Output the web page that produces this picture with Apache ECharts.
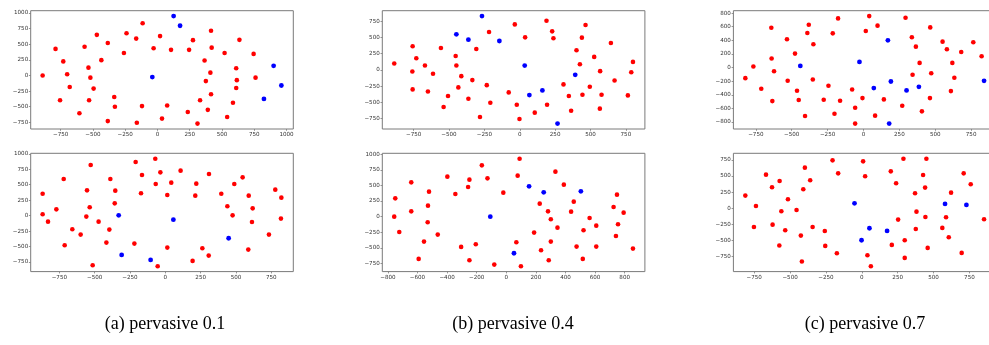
<!DOCTYPE html>
<html><head><meta charset="utf-8">
<script src="https://cdn.jsdelivr.net/npm/echarts@6/dist/echarts.min.js"></script>
<style>html,body{margin:0;padding:0;background:#fff;overflow:hidden}#c{width:1010px;height:345px}</style>
</head><body><div id="c"></div>
<script>
// (a) pervasive 0.1 — top
const a1Red = [[-890,0],[-790,425],[-730,225],[-755,-395],[-700,20],[-680,-185],[-605,-605],[-565,460],[-535,125],[-520,-35],[-530,-395],[-495,-210],[-470,650],[-435,245],[-385,520],[-385,-730],[-335,-345],[-330,-500],[-260,360],[-240,675],[-165,590],[-160,-755],[-115,835],[-120,-490],[-30,435],[20,630],[35,-690],[75,-480],[105,410],[235,-585],[245,410],[275,565],[310,-770],[330,-395],[365,240],[390,-550],[410,45],[375,-90],[415,715],[420,445],[415,-300],[520,360],[540,-665],[585,-435],[610,115],[615,-75],[610,-200],[635,570],[745,345],[760,-35]];
const a1Blue = [[125,950],[175,795],[-40,-25],[900,155],[960,-160],[825,-375]];
// (a) pervasive 0.1 — bottom
const a2Red = [[-868,355],[-868,22],[-830,-97],[-771,102],[-719,592],[-712,-479],[-658,-221],[-599,-307],[-554,409],[-559,-16],[-535,135],[-528,818],[-514,-802],[-472,-97],[-417,-436],[-396,-226],[-389,592],[-358,199],[-354,404],[-219,-452],[-210,867],[-172,361],[-165,657],[-71,921],[-68,512],[-54,-818],[-35,700],[14,334],[14,-517],[42,533],[108,727],[193,-732],[212,323],[219,517],[262,-528],[307,-646],[309,673],[396,355],[439,151],[476,5],[488,512],[547,619],[587,-549],[590,323],[618,118],[613,-102],[733,-307],[778,420],[821,291],[818,-48]];
const a2Blue = [[-330,5],[-309,-635],[-104,-716],[57,-65],[448,-366]];
// (b) pervasive 0.4 — top
const b1Red = [[-887,97],[-757,362],[-731,179],[-759,-26],[-757,-301],[-670,66],[-649,-332],[-613,-61],[-557,337],[-538,-571],[-507,-403],[-453,214],[-448,66],[-413,-97],[-434,-270],[-363,-444],[-335,-158],[-307,321],[-281,-724],[-233,-235],[-217,582],[-208,-505],[-78,-347],[-35,699],[-21,-536],[-2,-755],[38,500],[106,-658],[189,755],[193,-536],[229,592],[238,485],[309,-224],[347,-403],[363,-628],[401,301],[425,87],[439,495],[443,-383],[465,689],[495,-260],[526,199],[568,-20],[578,-383],[566,-597],[644,413],[670,-163],[764,-393],[788,-36],[800,122]];
const b1Blue = [[-448,546],[-363,464],[-267,827],[-144,444],[35,66],[68,-388],[160,-316],[267,-827],[392,-77]];
// (b) pervasive 0.4 — bottom
const b2Red = [[-757,0],[-750,293],[-723,-245],[-642,549],[-642,85],[-592,-677],[-556,-400],[-531,-91],[-529,176],[-522,400],[-463,-288],[-398,640],[-344,362],[-305,-485],[-258,474],[-249,592],[-249,-698],[-206,-442],[-165,821],[-127,613],[-81,-768],[-20,384],[68,-410],[77,656],[90,928],[99,-794],[188,-256],[226,208],[235,-538],[282,85],[287,-698],[301,-43],[301,-400],[332,720],[346,-176],[389,512],[438,80],[456,240],[475,-480],[517,-677],[522,-219],[563,-21],[608,-144],[608,-480],[725,155],[741,-309],[748,352],[755,-123],[793,64],[856,-512]];
const b2Blue = [[-108,0],[52,-586],[154,485],[253,389],[504,405]];
// (c) pervasive 0.7 — top
const c1Red = [[-823,-156],[-767,15],[-712,-312],[-642,585],[-640,132],[-623,-54],[-635,-493],[-533,415],[-528,-195],[-477,205],[-463,-341],[-451,-478],[-407,-712],[-391,507],[-381,629],[-349,341],[-353,-176],[-277,-473],[-244,-268],[-214,502],[-202,-678],[-177,722],[-163,-488],[-79,-322],[-58,-590],[-58,-824],[-7,-449],[16,537],[40,756],[81,-707],[98,615],[142,-468],[270,-561],[293,732],[337,444],[342,-107],[365,307],[391,68],[407,-644],[463,-449],[465,590],[472,-83],[551,380],[581,268],[609,-346],[619,68],[633,-151],[681,229],[765,371],[823,166]];
const c1Blue = [[-440,24],[-28,83],[72,-302],[170,400],[191,-205],[300,-337],[386,-283],[179,-824],[840,-195]];
// (c) pervasive 0.7 — bottom
const c2Red = [[-812,196],[-738,36],[-752,-289],[-668,521],[-626,325],[-622,-253],[-573,423],[-561,-46],[-575,-577],[-534,-340],[-515,139],[-455,-26],[-425,-423],[-418,-825],[-408,294],[-397,629],[-360,433],[-343,-289],[-258,-351],[-255,-582],[-204,742],[-174,-696],[-165,541],[9,727],[23,495],[39,-727],[63,-897],[202,572],[209,-567],[239,387],[253,-175],[290,768],[299,-495],[299,-768],[371,232],[376,-320],[381,-52],[427,515],[441,320],[443,-134],[450,768],[459,-613],[561,-304],[587,-139],[606,-448],[622,242],[696,-691],[710,541],[759,371],[852,-170]];
const c2Blue = [[-51,77],[-2,-495],[53,-309],[176,-351],[580,67],[729,52]];

// tick labels
const ticksA1x = [-750,-500,-250,0,250,500,750,1000];
const ticksA1y = [-750,-500,-250,0,250,500,750,1000];
const ticksA2x = [-750,-500,-250,0,250,500,750];
const ticksA2y = [-750,-500,-250,0,250,500,750,1000];
const ticksB1x = [-750,-500,-250,0,250,500,750];
const ticksB1y = [-750,-500,-250,0,250,500,750];
const ticksB2x = [-800,-600,-400,-200,0,200,400,600,800];
const ticksB2y = [-750,-500,-250,0,250,500,750,1000];
const ticksC1x = [-750,-500,-250,0,250,500,750];
const ticksC1y = [-800,-600,-400,-200,0,200,400,600,800];
const ticksC2x = [-750,-500,-250,0,250,500,750];
const ticksC2y = [-750,-500,-250,0,250,500,750];

const captions = ['(a) pervasive 0.1','(b) pervasive 0.4','(c) pervasive 0.7'];

const panels = [
  {red:a1Red, blue:a1Blue, xt:ticksA1x, yt:ticksA1y, col:0, row:0},
  {red:a2Red, blue:a2Blue, xt:ticksA2x, yt:ticksA2y, col:0, row:1},
  {red:b1Red, blue:b1Blue, xt:ticksB1x, yt:ticksB1y, col:1, row:0},
  {red:b2Red, blue:b2Blue, xt:ticksB2x, yt:ticksB2y, col:1, row:1},
  {red:c1Red, blue:c1Blue, xt:ticksC1x, yt:ticksC1y, col:2, row:0},
  {red:c2Red, blue:c2Blue, xt:ticksC2x, yt:ticksC2y, col:2, row:1}
];

const colLeft = [30.7, 382.3, 733.4];
const rowTop = [10.7, 153.3];
const W = 262.6, H = 118.3;
const capX = [165, 513, 865];

function limits(pts, k){
  let mn = Infinity, mx = -Infinity;
  pts.forEach(p => { mn = Math.min(mn, p[k]); mx = Math.max(mx, p[k]); });
  const m = (mx - mn) * 0.05;
  return [mn - m, mx + m];
}
const fmt = v => String(v).replace('-', '\u2212');
const labelStyle = {fontSize: 5.6, color: '#333', fontFamily: 'DejaVu Sans'};

const grid = [], xAxis = [], yAxis = [], series = [];
panels.forEach((p, i) => {
  const all = p.red.concat(p.blue);
  const xl = limits(all, 0), yl = limits(all, 1);
  grid.push({left: colLeft[p.col], top: rowTop[p.row], width: W, height: H,
    show: true, borderColor: '#7a7a7a', borderWidth: 1, backgroundColor: '#fff'});
  xAxis.push({type: 'value', gridIndex: i, min: xl[0], max: xl[1], position: 'bottom',
    splitLine: {show: false}, axisLine: {show: false, onZero: false},
    axisTick: {show: true, length: 1.8, inside: false, lineStyle: {color: '#7a7a7a', width: 0.8}, customValues: p.xt},
    axisLabel: Object.assign({margin: 2.5, formatter: fmt, customValues: p.xt}, labelStyle)});
  yAxis.push({type: 'value', gridIndex: i, min: yl[0], max: yl[1], position: 'left',
    splitLine: {show: false}, axisLine: {show: false, onZero: false},
    axisTick: {show: true, length: 1.8, inside: false, lineStyle: {color: '#7a7a7a', width: 0.8}, customValues: p.yt},
    axisLabel: Object.assign({margin: 2.5, formatter: fmt, customValues: p.yt}, labelStyle)});
  series.push({type: 'scatter', xAxisIndex: i, yAxisIndex: i, data: p.red,
    symbolSize: 4.6, itemStyle: {color: '#ff0000', opacity: 1}, silent: true, animation: false});
  series.push({type: 'scatter', xAxisIndex: i, yAxisIndex: i, data: p.blue,
    symbolSize: 4.8, itemStyle: {color: '#0000ff', opacity: 1}, silent: true, animation: false});
});

const graphic = captions.map((t, i) => ({
  type: 'text', x: capX[i], y: 324,
  style: {text: t, font: '18px "Liberation Serif"', fill: '#000', textAlign: 'center', textVerticalAlign: 'middle'}
}));

const chart = echarts.init(document.getElementById('c'), null, {renderer: 'canvas'});
chart.setOption({animation: false, backgroundColor: '#fff', grid, xAxis, yAxis, series, graphic});
</script></body></html>
